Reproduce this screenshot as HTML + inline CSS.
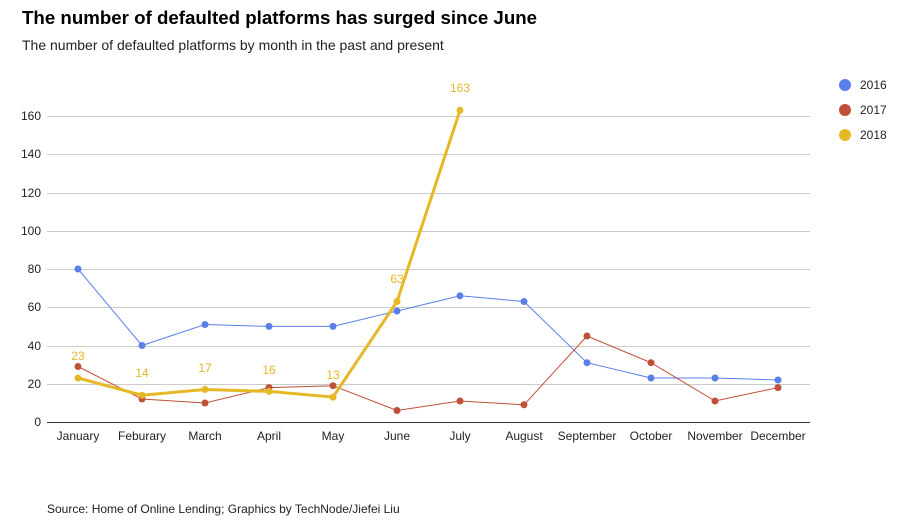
<!DOCTYPE html>
<html><head><meta charset="utf-8"><style>
body{margin:0;background:#fff;font-family:"Liberation Sans",Arial,sans-serif;}
</style></head><body>
<svg width="901" height="523" xmlns="http://www.w3.org/2000/svg" font-family="Liberation Sans, Arial, sans-serif">
<text x="22" y="24" font-size="18.7" font-weight="bold" fill="#000">The number of defaulted platforms has surged since June</text>
<text x="22" y="50" font-size="14" fill="#222">The number of defaulted platforms by month in the past and present</text>
<g stroke="#ccc" stroke-width="1">
<line x1="47" x2="810" y1="384.5" y2="384.5"/><line x1="47" x2="810" y1="346.5" y2="346.5"/>
<line x1="47" x2="810" y1="307.5" y2="307.5"/><line x1="47" x2="810" y1="269.5" y2="269.5"/>
<line x1="47" x2="810" y1="231.5" y2="231.5"/><line x1="47" x2="810" y1="193.5" y2="193.5"/>
<line x1="47" x2="810" y1="154.5" y2="154.5"/><line x1="47" x2="810" y1="116.5" y2="116.5"/>
</g>
<line x1="47" x2="810" y1="422.5" y2="422.5" stroke="#333"/>
<g font-size="12" fill="#222" text-anchor="end">
<text x="41" y="426">0</text><text x="41" y="388">20</text><text x="41" y="350">40</text><text x="41" y="311">60</text>
<text x="41" y="273">80</text><text x="41" y="235">100</text><text x="41" y="197">120</text><text x="41" y="158">140</text><text x="41" y="120">160</text>
</g>
<g font-size="12" fill="#222" text-anchor="middle">
<text x="78" y="440">January</text><text x="142" y="440">Feburary</text><text x="205" y="440">March</text><text x="269" y="440">April</text>
<text x="333" y="440">May</text><text x="397" y="440">June</text><text x="460" y="440">July</text><text x="524" y="440">August</text>
<text x="587" y="440">September</text><text x="651" y="440">October</text><text x="715" y="440">November</text><text x="778" y="440">December</text>
</g>
<polyline fill="none" stroke="#5b7fe8" stroke-width="1" points="78,269 142,345.5 205,324.5 269,326.4 333,326.4 397,311 460,295.8 524,301.5 587,362.7 651,378 715,378 778,380"/>
<g fill="#5b7fe8"><circle cx="78" cy="269" r="3.5"/><circle cx="142" cy="345.5" r="3.5"/><circle cx="205" cy="324.5" r="3.5"/><circle cx="269" cy="326.4" r="3.5"/><circle cx="333" cy="326.4" r="3.5"/><circle cx="397" cy="311" r="3.5"/><circle cx="460" cy="295.8" r="3.5"/><circle cx="524" cy="301.5" r="3.5"/><circle cx="587" cy="362.7" r="3.5"/><circle cx="651" cy="378" r="3.5"/><circle cx="715" cy="378" r="3.5"/><circle cx="778" cy="380" r="3.5"/></g>
<polyline fill="none" stroke="#c0503a" stroke-width="1" points="78,366.5 142,399 205,403 269,387.6 333,385.7 397,410.5 460,401 524,404.8 587,336 651,362.7 715,401 778,387.6"/>
<g fill="#c0503a"><circle cx="78" cy="366.5" r="3.5"/><circle cx="142" cy="399" r="3.5"/><circle cx="205" cy="403" r="3.5"/><circle cx="269" cy="387.6" r="3.5"/><circle cx="333" cy="385.7" r="3.5"/><circle cx="397" cy="410.5" r="3.5"/><circle cx="460" cy="401" r="3.5"/><circle cx="524" cy="404.8" r="3.5"/><circle cx="587" cy="336" r="3.5"/><circle cx="651" cy="362.7" r="3.5"/><circle cx="715" cy="401" r="3.5"/><circle cx="778" cy="387.6" r="3.5"/></g>
<polyline fill="none" stroke="#e5b825" stroke-width="3" points="78,378 142,395.2 205,389.5 269,391.4 333,397.1 397,301.5 460,110.3"/>
<g fill="#e5b825"><circle cx="78" cy="378" r="3.5"/><circle cx="142" cy="395.2" r="3.5"/><circle cx="205" cy="389.5" r="3.5"/><circle cx="269" cy="391.4" r="3.5"/><circle cx="333" cy="397.1" r="3.5"/><circle cx="397" cy="301.5" r="3.5"/><circle cx="460" cy="110.3" r="3.5"/></g>
<g font-size="12" fill="#e5b825" text-anchor="middle">
<text x="78" y="360">23</text><text x="142" y="377">14</text><text x="205" y="372">17</text><text x="269" y="374">16</text><text x="333" y="379">13</text><text x="397" y="283">63</text><text x="460" y="92">163</text>
</g>
<g font-size="12" fill="#222">
<circle cx="845" cy="85" r="6" fill="#5b7fe8"/><text x="860" y="89">2016</text>
<circle cx="845" cy="110" r="6" fill="#c0503a"/><text x="860" y="114">2017</text>
<circle cx="845" cy="135" r="6" fill="#e5b825"/><text x="860" y="139">2018</text>
</g>
<text x="47" y="513" font-size="12" fill="#222">Source: Home of Online Lending; Graphics by TechNode/Jiefei Liu</text>
</svg>
</body></html>
